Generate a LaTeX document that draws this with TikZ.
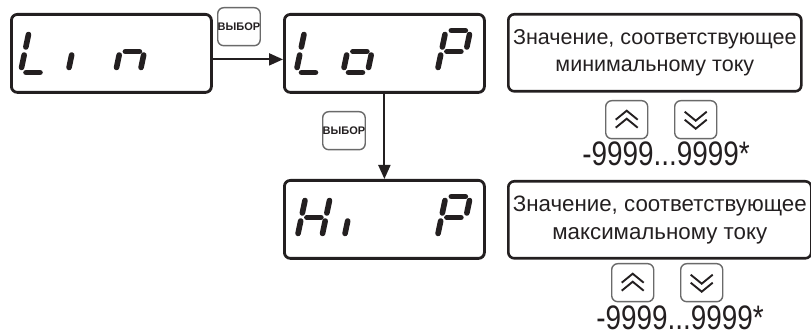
\documentclass[tikz,border=0pt]{standalone}
\usepackage{fontspec}
\setmainfont{Liberation Sans}
\newfontfamily\narfont[FakeStretch=0.82]{Liberation Sans}
\usetikzlibrary{arrows.meta,calc}
\definecolor{ink}{HTML}{231F20}
\definecolor{btn}{HTML}{6A6A6A}
\newcommand\segA{\draw[sg] (5.5,42)--(19.5,42);}
\newcommand\segB{\draw[sg] (24.5,25.5)--(24.5,38);}
\newcommand\segC{\draw[sg] (24.5,5)--(24.5,17.5);}
\newcommand\segD{\draw[sg] (5.5,0)--(19.5,0);}
\newcommand\segE{\draw[sg] (0,5)--(0,17.5);}
\newcommand\segF{\draw[sg] (0,25.5)--(0,38);}
\newcommand\segG{\draw[sg] (5.5,21)--(19.5,21);}
\newcommand\sdigit[3]{\begin{scope}[shift={(#1,#2)},x={(1pt,0pt)},y={(0.21pt,1pt)}]#3\end{scope}}
\begin{document}
\begin{tikzpicture}[x=1pt,y=-1pt,
  dispbox/.style={draw=ink,line width=2.8pt,rounded corners=6pt,minimum width=200pt,minimum height=78pt,anchor=north west,inner sep=0pt},
  txtbox/.style={draw=ink,line width=2.6pt,rounded corners=6pt,anchor=north west,inner sep=0pt,align=center,text=ink},
  btnbox/.style={draw=btn,line width=1.4pt,rounded corners=6pt,minimum width=42pt,minimum height=38pt,anchor=north west,inner sep=0pt},
  selbox/.style={btnbox,font=\bfseries\fontsize{11}{11}\selectfont,text=ink},
  sg/.style={draw=ink,line width=5.6pt,line cap=round},
  chev/.style={draw=ink,line width=1.9pt},
  numtxt/.style={font=\narfont\fontsize{34}{34}\selectfont,text=ink,inner sep=0pt},
  arr/.style={draw=ink,line width=2pt,-{Triangle[length=14pt,width=12pt]}}
]
\useasboundingbox (0,0) rectangle (811,336);
% display boxes
\node[dispbox] (lin) at (10,13) {};
\node[dispbox] (lo) at (283,13) {};
\node[dispbox] (hi) at (283,179) {};
% Lin
\sdigit{20.5}{72.5}{\segD\segE\segF}
\sdigit{68}{72.5}{\segE}
\sdigit{115.5}{72.5}{\segC\segE\segG}
% Lo P
\sdigit{296}{72.5}{\segD\segE\segF}
\sdigit{343}{72.5}{\segC\segD\segE\segG}
\sdigit{437}{72.5}{\segA\segB\segE\segF\segG}
% Hi P
\sdigit{297}{238.5}{\segB\segC\segE\segF\segG}
\sdigit{344}{238.5}{\segE}
\sdigit{437}{238.5}{\segA\segB\segE\segF\segG}
% select buttons
\node[selbox] (sel1) at (217,7) {ВЫБОР};
\node[selbox] (sel2) at (322,111) {ВЫБОР};
% arrows
\draw[arr] ([yshift=-6pt]lin.east) -- ([yshift=-6pt]lo.west);
\draw[arr] (lo.south) -- (hi.north);
% text boxes
\node[txtbox,minimum width=293pt,minimum height=77pt,font=\fontsize{21.5}{27}\selectfont] (t1) at (507,13) {Значение, соответствующее\\минимальному току};
\node[txtbox,minimum width=303pt,minimum height=77pt,font=\fontsize{22.3}{27.5}\selectfont] (t2) at (507,180) {Значение, соответствующее\\максимальному току};
% up/down buttons
\node[btnbox] (up1) at (605,100) {};
\node[btnbox] (dn1) at (674,100) {};
\node[btnbox] (up2) at (611,263) {};
\node[btnbox] (dn2) at (680,263) {};
\draw[chev] ($(up1.center)+(-11,0)$)--($(up1.center)+(0,-9)$)--($(up1.center)+(11,0)$);
\draw[chev] ($(up1.center)+(-11,8)$)--($(up1.center)+(0,-1)$)--($(up1.center)+(11,8)$);
\draw[chev] ($(dn1.center)+(-11,-8)$)--($(dn1.center)+(0,1)$)--($(dn1.center)+(11,-8)$);
\draw[chev] ($(dn1.center)+(-11,0)$)--($(dn1.center)+(0,9)$)--($(dn1.center)+(11,0)$);
\draw[chev] ($(up2.center)+(-11,0)$)--($(up2.center)+(0,-9)$)--($(up2.center)+(11,0)$);
\draw[chev] ($(up2.center)+(-11,8)$)--($(up2.center)+(0,-1)$)--($(up2.center)+(11,8)$);
\draw[chev] ($(dn2.center)+(-11,-8)$)--($(dn2.center)+(0,1)$)--($(dn2.center)+(11,-8)$);
\draw[chev] ($(dn2.center)+(-11,0)$)--($(dn2.center)+(0,9)$)--($(dn2.center)+(11,0)$);
% ranges
\node[numtxt] (r1) at (666,154) {-9999...9999*};
\node[numtxt] (r2) at (680,318) {-9999...9999*};
\end{tikzpicture}
\end{document}
